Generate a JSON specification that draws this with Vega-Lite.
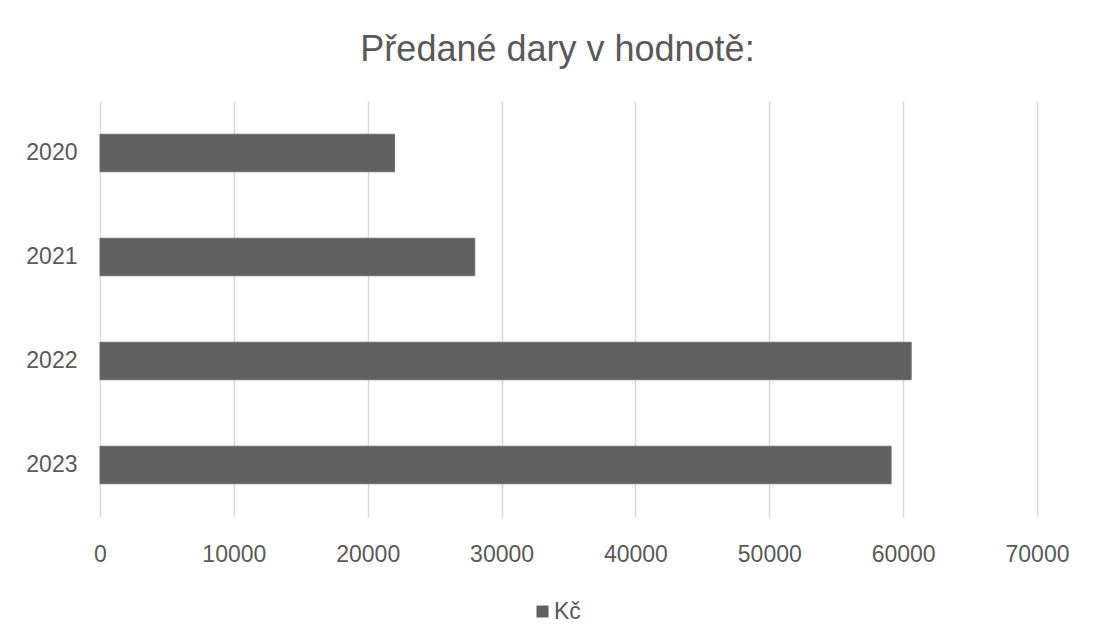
{
  "$schema": "https://vega.github.io/schema/vega-lite/v6.json",
  "autosize": "none",
  "width": 937,
  "height": 416,
  "padding": {"left": 100, "top": 101, "right": 58, "bottom": 121},
  "background": "#ffffff",
  "title": {
    "text": "Předané dary v hodnotě:",
    "font": "Liberation Sans",
    "fontSize": 36,
    "fontWeight": "normal",
    "color": "#595959",
    "anchor": "middle",
    "baseline": "alphabetic",
    "dx": -11,
    "offset": 4
  },
  "data": {
    "values": [
      {"rok": "2020", "hodnota": 22000, "serie": "Kč"},
      {"rok": "2021", "hodnota": 28000, "serie": "Kč"},
      {"rok": "2022", "hodnota": 60600, "serie": "Kč"},
      {"rok": "2023", "hodnota": 59100, "serie": "Kč"}
    ]
  },
  "mark": {"type": "bar", "stroke": "#707070", "strokeWidth": 1},
  "encoding": {
    "y": {
      "field": "rok",
      "type": "ordinal",
      "sort": ["2020", "2021", "2022", "2023"],
      "scale": {"paddingInner": 0.64, "paddingOuter": 0.32},
      "axis": {
        "title": null,
        "domain": false,
        "ticks": false,
        "grid": false,
        "labelFont": "Liberation Sans",
        "labelFontSize": 23,
        "labelColor": "#595959",
        "labelPadding": 23
      }
    },
    "x": {
      "field": "hodnota",
      "type": "quantitative",
      "scale": {"domain": [0, 70000], "nice": false},
      "axis": {
        "title": null,
        "values": [0, 10000, 20000, 30000, 40000, 50000, 60000, 70000],
        "format": "d",
        "domain": false,
        "ticks": false,
        "grid": true,
        "gridColor": "#d9d9d9",
        "gridWidth": 1.5,
        "labelFont": "Liberation Sans",
        "labelFontSize": 23,
        "labelColor": "#595959",
        "labelPadding": 26,
        "labelFlush": false
      }
    },
    "color": {
      "field": "serie",
      "type": "nominal",
      "scale": {"range": ["#606060"]},
      "legend": {
        "title": null,
        "orient": "none",
        "legendX": 431,
        "legendY": 499,
        "symbolType": "square",
        "symbolSize": 144,
        "symbolStrokeWidth": 0,
        "labelFont": "Liberation Sans",
        "labelFontSize": 23,
        "labelColor": "#595959",
        "labelOffset": 0,
        "padding": 0
      }
    }
  },
  "config": {
    "view": {"stroke": null}
  }
}
